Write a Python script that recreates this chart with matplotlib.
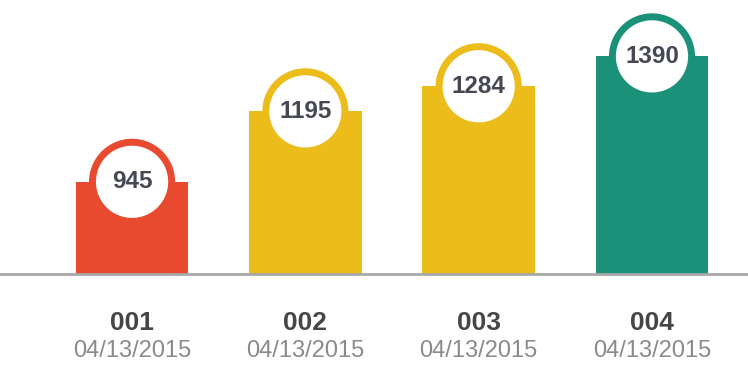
import numpy as np
import matplotlib.pyplot as plt

plt.rcParams['font.family'] = ['Liberation Sans', 'DejaVu Sans']

ids = ['001', '002', '003', '004']
dates = ['04/13/2015', '04/13/2015', '04/13/2015', '04/13/2015']
values = [945, 1195, 1284, 1390]
colors = ['#E84A2F', '#ECBC1B', '#ECBC1B', '#1C917A']

fig = plt.figure(figsize=(7.48, 3.65), dpi=100)
# axes bottom edge is the gray baseline
ax = fig.add_axes([0, 91 / 365, 1, 274 / 365])

x = np.arange(len(values))
ax.bar(x, values, width=0.65, color=colors, zorder=2)

# white badge with coloured ring sitting on top of each bar
ax.scatter(x, values, s=57**2, facecolor='white', edgecolor=colors,
           linewidth=5, zorder=3, clip_on=False)

for xi, v in zip(x, values):
    ax.text(xi, v, str(v), ha='center', va='center', fontsize=17.5,
            fontweight='bold', color='#454852', zorder=4)

for xi, i, d in zip(x, ids, dates):
    ax.annotate(i, xy=(xi, 0), xycoords=('data', 'axes fraction'),
                xytext=(0, -35), textcoords='offset points',
                ha='center', va='center', fontsize=19, fontweight='bold',
                color='#464646', annotation_clip=False)
    ax.annotate(d, xy=(xi, 0), xycoords=('data', 'axes fraction'),
                xytext=(0, -55.5), textcoords='offset points',
                ha='center', va='center', fontsize=17,
                color='#8a8a8a', annotation_clip=False)

ax.set_xlim(-0.762, 3.554)
ax.set_ylim(618, 1590)

for s in ['top', 'left', 'right']:
    ax.spines[s].set_visible(False)
ax.spines['bottom'].set_color('#a8a8a8')
ax.spines['bottom'].set_linewidth(2)
ax.spines['bottom'].set_zorder(5)
ax.set_xticks([])
ax.set_yticks([])

fig.savefig('out.png', dpi=100)
